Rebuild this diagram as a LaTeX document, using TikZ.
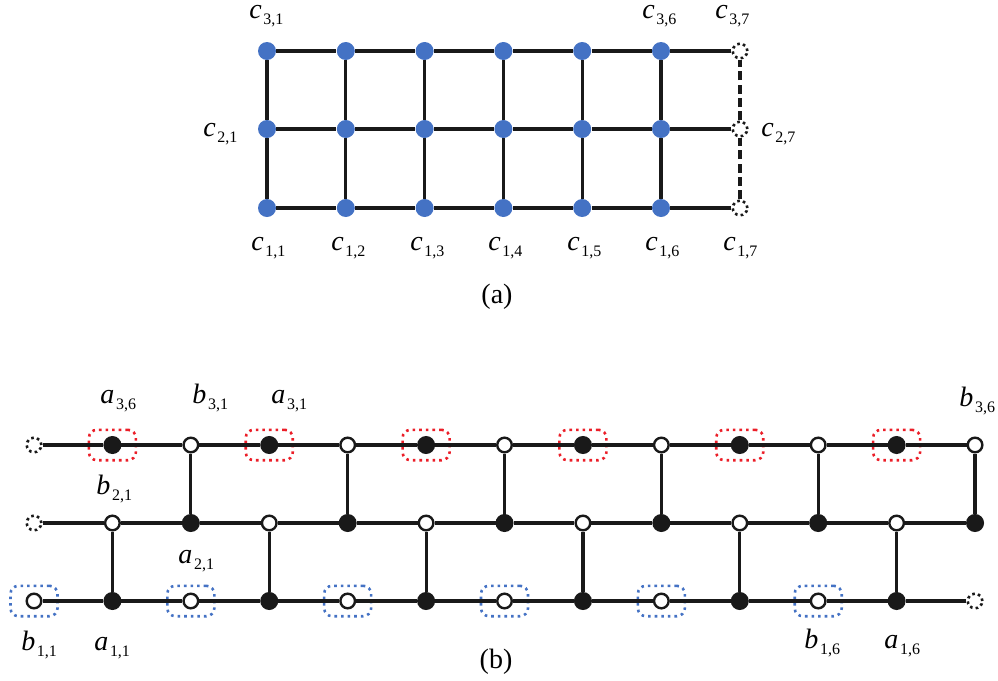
\documentclass[tikz,border=0pt]{standalone}
\usepackage{fontspec}
\setmainfont{Liberation Serif}
\usetikzlibrary{positioning}
\definecolor{myblue}{RGB}{68,114,196}
\definecolor{myred}{RGB}{235,30,40}
\definecolor{mydark}{RGB}{25,25,25}
\newcommand{\lab}[2]{\textit{#1}\kern0.8pt\raisebox{-3pt}{\fontsize{8}{9}\selectfont #2}}
\tikzset{
  cnode/.style={circle, fill=myblue, inner sep=0pt, minimum size=9pt},
  onode/.style={circle, draw=mydark, fill=white, line width=1.2pt,
    inner sep=0pt, minimum size=7.3pt},
  fnode/.style={circle, draw=mydark, fill=mydark, line width=1pt,
    inner sep=0pt, minimum size=8pt},
  ghost/.style={circle, draw=mydark, line width=1.3pt,
    dash pattern=on 1.3pt off 1.6pt, inner sep=0pt, minimum size=7.3pt},
  redbox/.style={rectangle, draw=myred, dotted, line width=1.3pt,
    rounded corners=4pt, minimum width=23.5pt, minimum height=15.2pt},
  bluebox/.style={redbox, draw=myblue},
  link/.style={line width=1.6pt, color=mydark},
  dashlink/.style={link, dash pattern=on 4.5pt off 2.2pt},
  lbl/.style={anchor=base west, inner sep=0pt, font=\fontsize{14}{16}\selectfont},
  capt/.style={anchor=base, inner sep=0pt, font=\fontsize{14}{16}\selectfont}
}

\begin{document}
\begin{tikzpicture}[x=0.5pt, y=-0.5pt]
  \useasboundingbox (0,0) rectangle (998,681);

  % (a) grid of cells
  \foreach \r/\y in {1/208, 2/129, 3/51} {
    \foreach \k in {1,...,6}
      \node[cnode] (c-\r-\k) at ({267+78.8*(\k-1)}, \y) {};
    \node[ghost] (c-\r-7) at (740, \y) {};
  }
  \foreach \r in {1,2,3}
    \foreach \k [remember=\k as \p (initially 1)] in {2,...,7}
      \draw[link] (c-\r-\p) -- (c-\r-\k);
  \foreach \k in {1,...,6}
    \draw[link] (c-1-\k) -- (c-2-\k) -- (c-3-\k);
  \draw[dashlink] (c-1-7) -- (c-2-7) -- (c-3-7);

  % (a) labels
  \node[lbl] (l-c31) at (249,18) {\lab{c}{3,1}};
  \node[lbl] (l-c36) at (642,18) {\lab{c}{3,6}};
  \node[lbl] (l-c37) at (715,18) {\lab{c}{3,7}};
  \node[lbl] (l-c21) at (203,136) {\lab{c}{2,1}};
  \node[lbl] (l-c27) at (761,136) {\lab{c}{2,7}};
  \node[lbl] (l-c11) at (251,250) {\lab{c}{1,1}};
  \node[lbl] (l-c12) at (331,250) {\lab{c}{1,2}};
  \node[lbl] (l-c13) at (410,250) {\lab{c}{1,3}};
  \node[lbl] (l-c14) at (488,250) {\lab{c}{1,4}};
  \node[lbl] (l-c15) at (567,250) {\lab{c}{1,5}};
  \node[lbl] (l-c16) at (645,250) {\lab{c}{1,6}};
  \node[lbl] (l-c17) at (723,250) {\lab{c}{1,7}};
  \node[capt] (cap-a) at (497,303) {(a)};

  % (b) nodes, row by row
  \node[ghost] (p-3-0) at (34,445) {};
  \foreach \j in {1,3,...,11}
    \node[fnode] (p-3-\j) at ({34+78.42*\j}, 445) {};
  \foreach \j in {2,4,...,12}
    \node[onode] (p-3-\j) at ({34+78.42*\j}, 445) {};
  \node[ghost] (p-2-0) at (34,523) {};
  \foreach \j in {1,3,...,11}
    \node[onode] (p-2-\j) at ({34+78.42*\j}, 523) {};
  \foreach \j in {2,4,...,12}
    \node[fnode] (p-2-\j) at ({34+78.42*\j}, 523) {};
  \foreach \j in {0,2,...,10}
    \node[onode] (p-1-\j) at ({34+78.42*\j}, 601) {};
  \foreach \j in {1,3,...,11}
    \node[fnode] (p-1-\j) at ({34+78.42*\j}, 601) {};
  \node[ghost] (p-1-12) at (975,601) {};

  % dotted frames
  \foreach \j in {1,3,...,11}
    \node[redbox] (rb-\j) at (p-3-\j) {};
  \foreach \j in {0,2,...,10}
    \node[bluebox] (bb-\j) at (p-1-\j) {};

  % (b) connectors
  \foreach \r in {1,2,3}
    \foreach \j [remember=\j as \i (initially 0)] in {1,...,12}
      \draw[link] (p-\r-\i) -- (p-\r-\j);
  \foreach \j in {2,4,...,12}
    \draw[link] (p-3-\j) -- (p-2-\j);
  \foreach \j in {1,3,...,11}
    \draw[link] (p-2-\j) -- (p-1-\j);

  % (b) labels
  \node[lbl] (l-a36) at (100,403) {\lab{a}{3,6}};
  \node[lbl] (l-b31) at (192,403) {\lab{b}{3,1}};
  \node[lbl] (l-a31) at (271,403) {\lab{a}{3,1}};
  \node[lbl] (l-b36) at (959,406) {\lab{b}{3,6}};
  \node[lbl] (l-b21) at (96,494) {\lab{b}{2,1}};
  \node[lbl] (l-a21) at (178,563) {\lab{a}{2,1}};
  \node[lbl] (l-b11) at (21,650) {\lab{b}{1,1}};
  \node[lbl] (l-a11) at (94,650) {\lab{a}{1,1}};
  \node[lbl] (l-b16) at (804,648) {\lab{b}{1,6}};
  \node[lbl] (l-a16) at (884,648) {\lab{a}{1,6}};
  \node[capt] (cap-b) at (496,668) {(b)};
\end{tikzpicture}
\end{document}
